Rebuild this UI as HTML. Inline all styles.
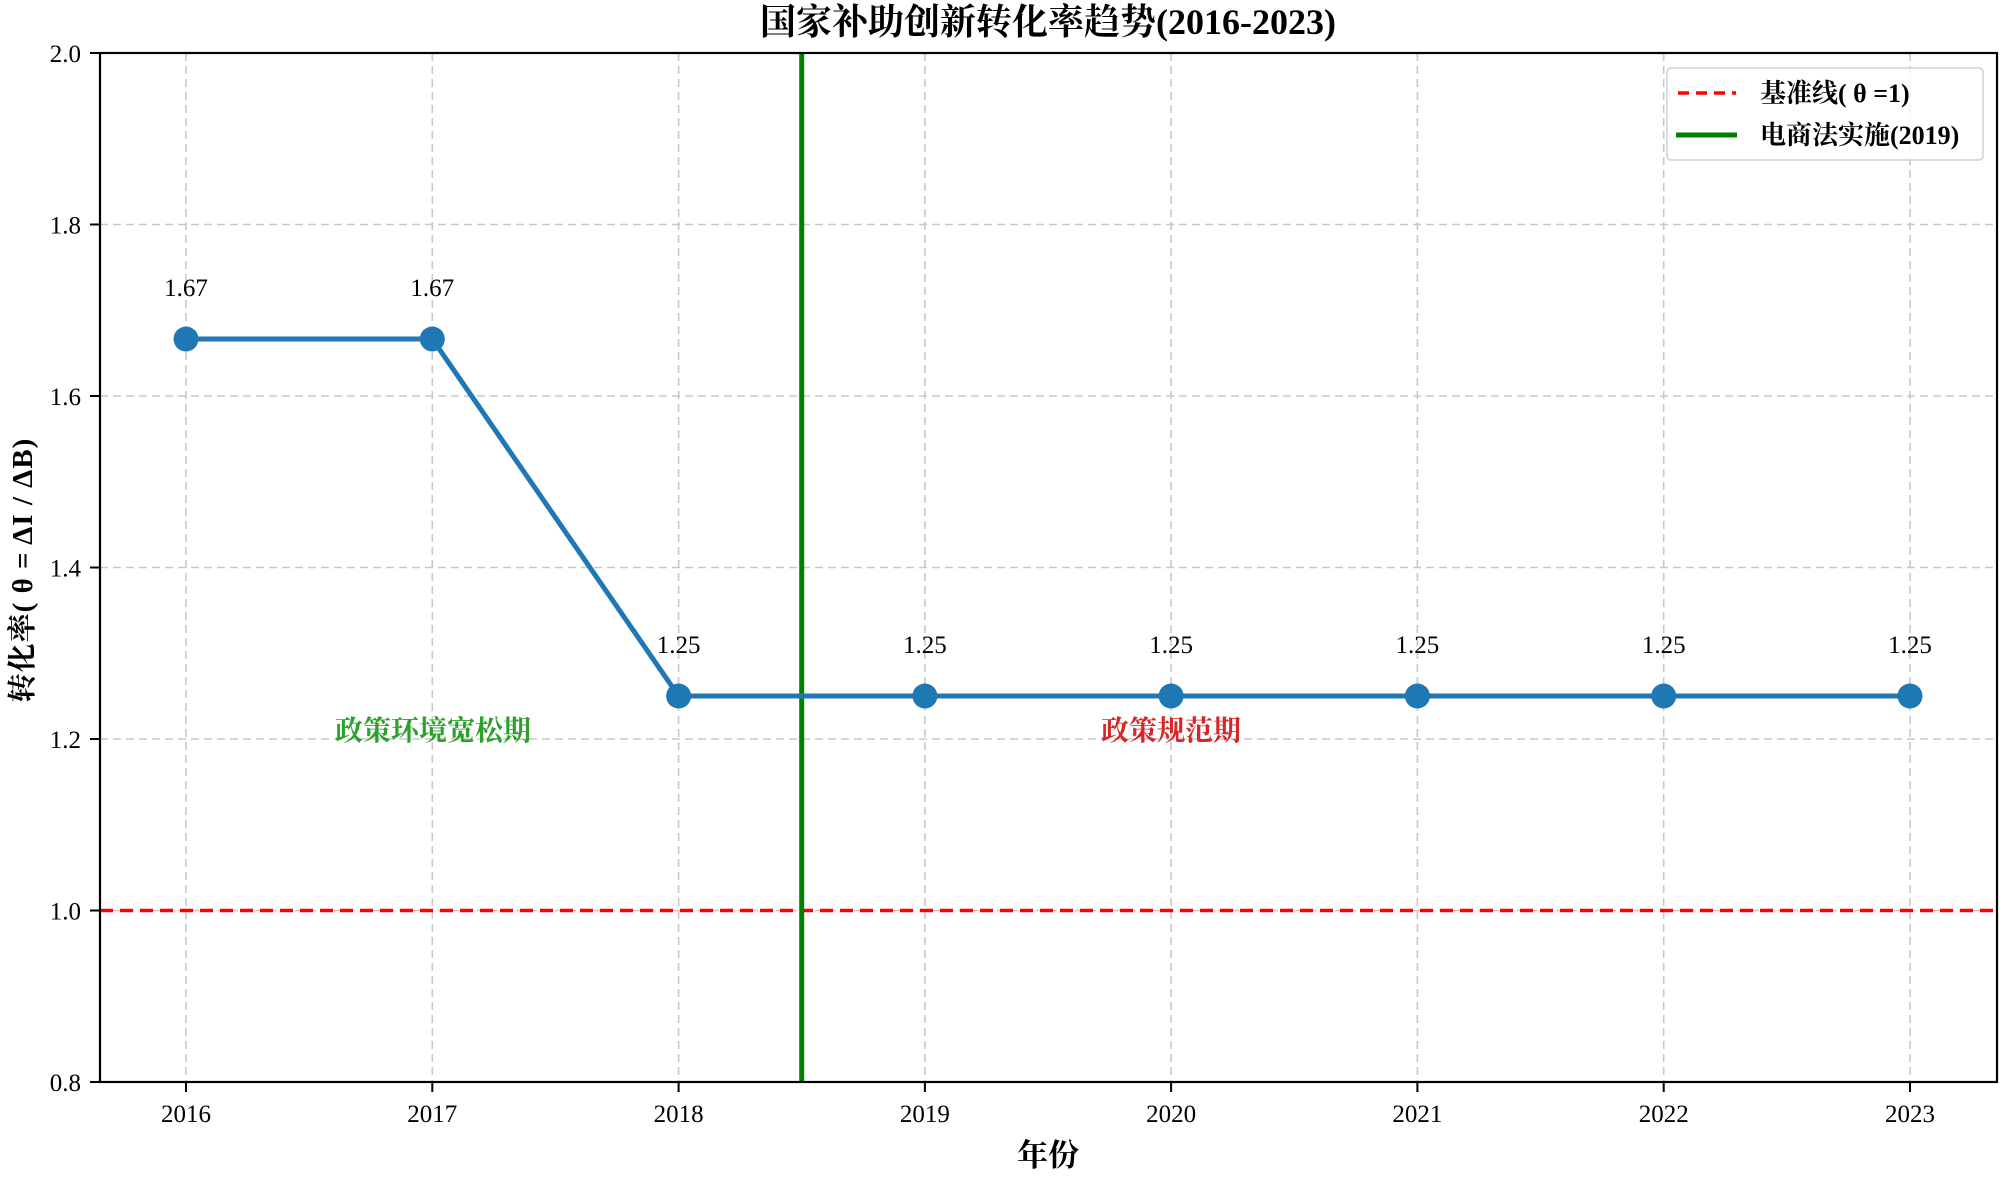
<!DOCTYPE html>
<html><head><meta charset="utf-8"><style>
html,body{margin:0;padding:0;background:#fff}
svg{display:block}
text{font-family:"Liberation Serif","Noto Serif CJK SC",serif}
</style></head><body>
<svg width="2000" height="1178" viewBox="0 0 2000 1178" xmlns="http://www.w3.org/2000/svg">
<rect width="2000" height="1178" fill="#fff"/>
<g stroke="#c8c8c8" stroke-width="1.6" stroke-dasharray="8,5">
<line x1="186" y1="53" x2="186" y2="1082"/><line x1="432.3" y1="53" x2="432.3" y2="1082"/>
<line x1="678.6" y1="53" x2="678.6" y2="1082"/><line x1="924.9" y1="53" x2="924.9" y2="1082"/>
<line x1="1171.1" y1="53" x2="1171.1" y2="1082"/><line x1="1417.4" y1="53" x2="1417.4" y2="1082"/>
<line x1="1663.7" y1="53" x2="1663.7" y2="1082"/><line x1="1910" y1="53" x2="1910" y2="1082"/>
<line x1="100" y1="224.5" x2="1997" y2="224.5"/><line x1="100" y1="396" x2="1997" y2="396"/>
<line x1="100" y1="567.5" x2="1997" y2="567.5"/><line x1="100" y1="739" x2="1997" y2="739"/>
<line x1="100" y1="910.5" x2="1997" y2="910.5"/>
</g>
<line x1="100" y1="910.5" x2="1997" y2="910.5" stroke="#ff0000" stroke-width="3.5" stroke-dasharray="13,7"/>
<line x1="801.7" y1="53" x2="801.7" y2="1082" stroke="#008000" stroke-width="5"/>
<polyline points="186,339 432.3,339 678.6,696 924.9,696 1171.1,696 1417.4,696 1663.7,696 1910,696" fill="none" stroke="#1f77b4" stroke-width="5"/>
<g fill="#1f77b4">
<circle cx="186" cy="339" r="12.5"/><circle cx="432.3" cy="339" r="12.5"/><circle cx="678.6" cy="696" r="12.5"/>
<circle cx="924.9" cy="696" r="12.5"/><circle cx="1171.1" cy="696" r="12.5"/><circle cx="1417.4" cy="696" r="12.5"/>
<circle cx="1663.7" cy="696" r="12.5"/><circle cx="1910" cy="696" r="12.5"/>
</g>
<g font-size="25" text-anchor="middle" fill="#000">
<text x="186" y="296">1.67</text><text x="432.3" y="296">1.67</text>
<text x="678.6" y="653">1.25</text><text x="924.9" y="653">1.25</text><text x="1171.1" y="653">1.25</text>
<text x="1417.4" y="653">1.25</text><text x="1663.7" y="653">1.25</text><text x="1910" y="653">1.25</text>
</g>
<text x="433" y="740" font-size="28" font-weight="bold" fill="#2ca02c" text-anchor="middle">政策环境宽松期</text>
<text x="1171" y="740" font-size="28" font-weight="bold" fill="#d62728" text-anchor="middle">政策规范期</text>
<rect x="100" y="53" width="1897" height="1029" fill="none" stroke="#000" stroke-width="2.2"/>
<g stroke="#000" stroke-width="2">
<line x1="90" y1="53" x2="100" y2="53"/><line x1="90" y1="224.5" x2="100" y2="224.5"/><line x1="90" y1="396" x2="100" y2="396"/>
<line x1="90" y1="567.5" x2="100" y2="567.5"/><line x1="90" y1="739" x2="100" y2="739"/><line x1="90" y1="910.5" x2="100" y2="910.5"/>
<line x1="90" y1="1082" x2="100" y2="1082"/>
<line x1="186" y1="1082" x2="186" y2="1092"/><line x1="432.3" y1="1082" x2="432.3" y2="1092"/><line x1="678.6" y1="1082" x2="678.6" y2="1092"/>
<line x1="924.9" y1="1082" x2="924.9" y2="1092"/><line x1="1171.1" y1="1082" x2="1171.1" y2="1092"/><line x1="1417.4" y1="1082" x2="1417.4" y2="1092"/>
<line x1="1663.7" y1="1082" x2="1663.7" y2="1092"/><line x1="1910" y1="1082" x2="1910" y2="1092"/>
</g>
<g font-size="25" text-anchor="end">
<text x="81" y="62">2.0</text><text x="81" y="233.5">1.8</text><text x="81" y="405">1.6</text>
<text x="81" y="576.5">1.4</text><text x="81" y="748">1.2</text><text x="81" y="919.5">1.0</text><text x="81" y="1091">0.8</text>
</g>
<g font-size="25" text-anchor="middle">
<text x="186" y="1122">2016</text><text x="432.3" y="1122">2017</text><text x="678.6" y="1122">2018</text><text x="924.9" y="1122">2019</text>
<text x="1171.1" y="1122">2020</text><text x="1417.4" y="1122">2021</text><text x="1663.7" y="1122">2022</text><text x="1910" y="1122">2023</text>
</g>
<text x="1048" y="1166" font-size="31" font-weight="bold" text-anchor="middle">年份</text>
<text transform="translate(32,570) rotate(-90)" font-size="29" font-weight="bold" text-anchor="middle" letter-spacing="1">转化率( θ = ΔI / ΔB)</text>
<text x="1048" y="34" font-size="36" font-weight="bold" text-anchor="middle">国家补助创新转化率趋势(2016-2023)</text>
<rect x="1667" y="68" width="316" height="92" rx="4" fill="#fff" fill-opacity="0.8" stroke="#d0d0d0" stroke-width="1.5"/>
<line x1="1678" y1="93" x2="1736" y2="93" stroke="#ff0000" stroke-width="3.5" stroke-dasharray="11,7"/>
<line x1="1676" y1="135" x2="1737" y2="135" stroke="#008000" stroke-width="5"/>
<text x="1760" y="102" font-size="26" font-weight="bold">基准线( θ =1)</text>
<text x="1760" y="144" font-size="26" font-weight="bold">电商法实施(2019)</text>
</svg>
</body></html>
